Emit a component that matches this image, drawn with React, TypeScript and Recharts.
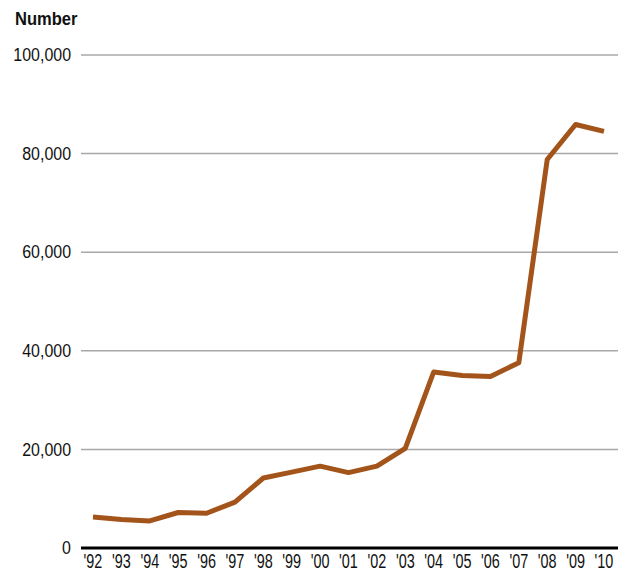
import { LineChart, Line, XAxis, YAxis, CartesianGrid } from "recharts";

// years shown on the x axis
const years = ["'92", "'93", "'94", "'95", "'96", "'97", "'98", "'99", "'00", "'01",
  "'02", "'03", "'04", "'05", "'06", "'07", "'08", "'09", "'10"];

// values
const counts = [6300, 5800, 5500, 7200, 7050, 9300, 14200, 15400, 16600, 15300,
  16600, 20200, 35700, 35000, 34800, 37600, 78800, 85900, 84500];

const yTicks = [0, 20000, 40000, 60000, 80000, 100000];

const data = years.map((year, i) => ({ year, value: counts[i] }));

const FONT = "'Liberation Sans', sans-serif";

// no condensed face installed, so squeeze the regular one horizontally
function YTick({ x, y, payload }: any) {
  return (
    <g transform={`translate(${x},${y})`}>
      <text transform="scale(0.84,1)" textAnchor="end" dy="0.33em" fontSize={19} fill="#111" fontFamily={FONT}>
        {Number(payload.value).toLocaleString("en-US")}
      </text>
    </g>
  );
}

function XTick({ x, y, payload }: any) {
  return (
    <g transform={`translate(${x},${y})`}>
      <text transform="scale(0.74,1)" textAnchor="middle" dy="0.71em" fontSize={19.5} fill="#111" fontFamily={FONT}>
        {payload.value}
      </text>
    </g>
  );
}

export default function App() {
  return (
    <div style={{ position: "fixed", left: 0, top: 0, width: 623, height: 575, background: "#fff", fontFamily: FONT }}>
      <div style={{ position: "absolute", left: 15, top: 8, fontSize: 19, fontWeight: 700, color: "#111", transform: "scaleX(0.87)", transformOrigin: "left top" }}>Number</div>
      <LineChart width={623} height={575} data={data} margin={{ top: 55, right: 5, bottom: 0, left: 0 }}>
        <CartesianGrid vertical={false} stroke="#a8a8a8" strokeWidth={1.5} />
        <XAxis
          dataKey="year"
          padding={{ left: 12, right: 14 }}
          height={27}
          tickLine={false}
          tickSize={0}
          tickMargin={6}
          interval={0}
          axisLine={{ stroke: "#000", strokeWidth: 3 }}
          tick={<XTick />}
        />
        <YAxis
          domain={[0, 100000]}
          ticks={yTicks}
          width={81}
          axisLine={false}
          tickLine={false}
          tickSize={0}
          tickMargin={10}
          tick={<YTick />}
        />
        <Line
          type="linear"
          dataKey="value"
          stroke="#a3541a"
          strokeWidth={5}
          dot={false}
          strokeLinejoin="round"
          isAnimationActive={false}
        />
      </LineChart>
    </div>
  );
}
